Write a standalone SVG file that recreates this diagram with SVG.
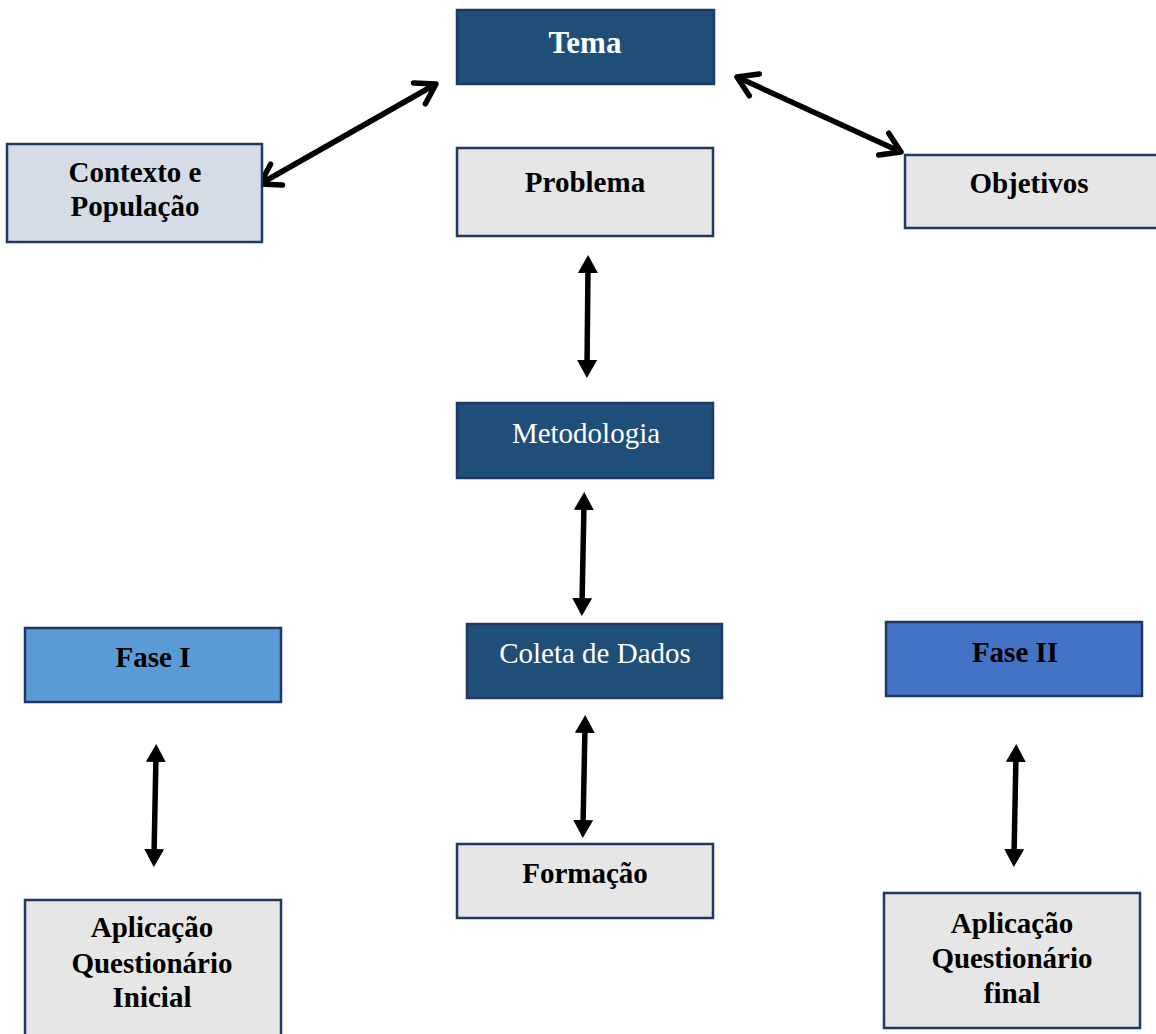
<svg xmlns="http://www.w3.org/2000/svg" width="1156" height="1034" viewBox="0 0 1156 1034">
<defs>
<style>
.box{stroke:#1f3864;stroke-width:2.5}
.dark{fill:#1f4e79}
.grey{fill:#e7e6e6}
.ctx{fill:#d6dce5}
.f1{fill:#5b9bd5}
.f2{fill:#4472c4}
text{font-family:"Liberation Serif","Times New Roman",serif;text-anchor:middle}
.b{font-weight:bold;font-size:29px;fill:#000}
.w{fill:#fff;font-size:29px}
.wb{fill:#fff;font-weight:bold;font-size:31px}
.conn line{stroke:#000;stroke-width:5.5;fill:none}
</style>
<marker id="tri" viewBox="0 0 18 20" markerUnits="userSpaceOnUse" markerWidth="18" markerHeight="20" refX="7" refY="10" orient="auto-start-reverse">
<path d="M0,0 L18,10 L0,20 z" fill="#000"/>
</marker>
<marker id="chev" viewBox="0 0 26 28" markerUnits="userSpaceOnUse" markerWidth="26" markerHeight="28" refX="22" refY="14" orient="auto-start-reverse" overflow="visible">
<path d="M3,2 L22,14 L3,26" fill="none" stroke="#000" stroke-width="5.5" stroke-linecap="round" stroke-linejoin="round"/>
</marker>
</defs>
<rect width="1156" height="1034" fill="#fff"/>
<g id="connectors" class="conn">
<line x1="436" y1="84" x2="260" y2="184" marker-start="url(#chev)" marker-end="url(#chev)"/>
<line x1="737" y1="77" x2="901" y2="152" marker-start="url(#chev)" marker-end="url(#chev)"/>
<line x1="588" y1="266" x2="587" y2="367" marker-start="url(#tri)" marker-end="url(#tri)"/>
<line x1="584" y1="503" x2="582" y2="605" marker-start="url(#tri)" marker-end="url(#tri)"/>
<line x1="585" y1="726" x2="583" y2="827" marker-start="url(#tri)" marker-end="url(#tri)"/>
<line x1="156" y1="755" x2="154" y2="856" marker-start="url(#tri)" marker-end="url(#tri)"/>
<line x1="1016" y1="755" x2="1014" y2="856" marker-start="url(#tri)" marker-end="url(#tri)"/>
</g>
<g id="tema"><rect class="box dark" x="457" y="10" width="257" height="74"/><text class="wb" x="585" y="53">Tema</text></g>
<g id="contexto"><rect class="box ctx" x="7" y="144" width="255" height="98"/><text class="b" x="135" y="182">Contexto e</text><text class="b" x="135" y="216">População</text></g>
<g id="problema"><rect class="box grey" x="457" y="148" width="256" height="88"/><text class="b" x="585" y="192">Problema</text></g>
<g id="objetivos"><rect class="box grey" x="905" y="155" width="256" height="73"/><text class="b" x="1029" y="193">Objetivos</text></g>
<g id="metodologia"><rect class="box dark" x="457" y="403" width="256" height="75"/><text class="w" x="586" y="443">Metodologia</text></g>
<g id="coleta"><rect class="box dark" x="467" y="624" width="255" height="74"/><text class="w" x="595" y="663">Coleta de Dados</text></g>
<g id="formacao"><rect class="box grey" x="457" y="844" width="256" height="74"/><text class="b" x="585" y="883">Formação</text></g>
<g id="fase1"><rect class="box f1" x="25" y="628" width="256" height="74"/><text class="b" x="153" y="667">Fase I</text></g>
<g id="fase2"><rect class="box f2" x="886" y="622" width="256" height="74"/><text class="b" x="1015" y="662">Fase II</text></g>
<g id="aplic1"><rect class="box grey" x="25" y="900" width="256" height="140"/><text class="b" x="152" y="937">Aplicação</text><text class="b" x="152" y="973">Questionário</text><text class="b" x="152" y="1007">Inicial</text></g>
<g id="aplic2"><rect class="box grey" x="884" y="893" width="256" height="135"/><text class="b" x="1012" y="933">Aplicação</text><text class="b" x="1012" y="968">Questionário</text><text class="b" x="1012" y="1003">final</text></g>
</svg>
